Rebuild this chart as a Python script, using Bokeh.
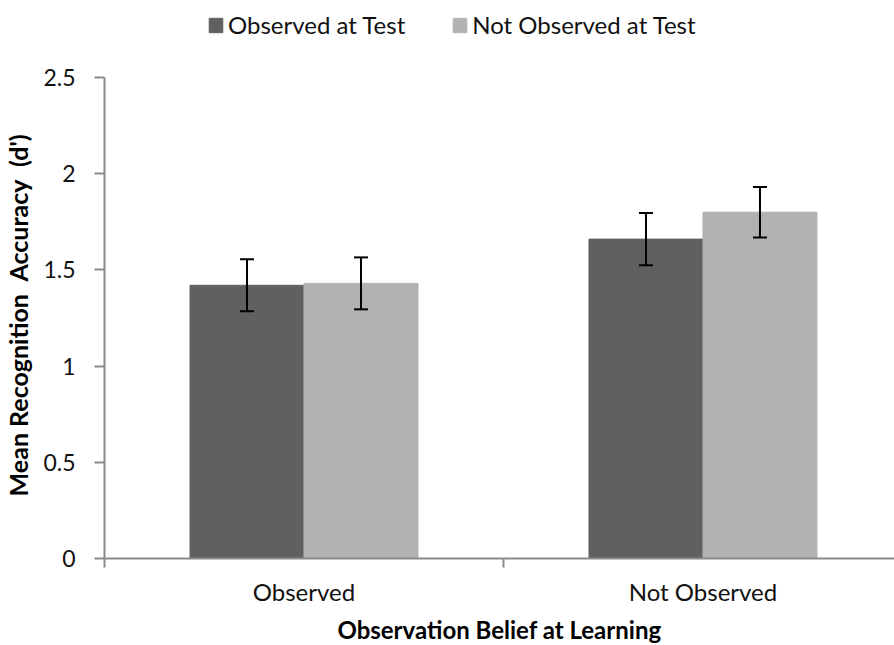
from bokeh.plotting import figure
from bokeh.models import (Range1d, FixedTicker, CustomJSTickFormatter, NumeralTickFormatter,
                          ColumnDataSource, Whisker, TeeHead, Legend, LegendItem)
from bokeh.embed import file_html
from bokeh.resources import INLINE

# ---- data ----
categories = ["Observed", "Not Observed"]
series_names = ["Observed at Test", "Not Observed at Test"]
observed_at_test = [1.42, 1.66]
not_observed_at_test = [1.43, 1.80]
observed_err = [0.135, 0.136]
not_observed_err = [0.135, 0.131]
y_ticks = [0, 0.5, 1, 1.5, 2, 2.5]
y_max = 2.5
colors = ["#606060", "#b2b2b2"]

FONT = "Lato"
bar_w = 0.2857

# frame extends to the top of the figure (room for the legend); axis drawn only to y_max
FRAME_H = 558
AXIS_H = 481
p = figure(frame_width=790, frame_height=FRAME_H, output_backend="svg", toolbar_location=None,
           x_range=Range1d(0, 1.98), y_range=Range1d(0, y_max * FRAME_H / AXIS_H),
           min_border_left=104, min_border_right=0, min_border_top=0, min_border_bottom=87)
p.outline_line_color = None
p.grid.visible = False
p.background_fill_color = "white"

renderers = []
for k, (vals, errs) in enumerate([(observed_at_test, observed_err),
                                  (not_observed_at_test, not_observed_err)]):
    xs = [i + 0.5 + (k - 0.5) * bar_w for i in range(len(categories))]
    src = ColumnDataSource(dict(x=xs, top=vals,
                                upper=[v + e for v, e in zip(vals, errs)],
                                lower=[v - e for v, e in zip(vals, errs)]))
    r = p.vbar(x="x", top="top", bottom=0, width=bar_w, source=src,
               fill_color=colors[k], line_color=colors[k])
    renderers.append(r)
    w = Whisker(base="x", upper="upper", lower="lower", source=src, level="overlay",
                line_color="black", line_width=2,
                upper_head=TeeHead(size=14, line_width=2, line_color="black"),
                lower_head=TeeHead(size=14, line_width=2, line_color="black"))
    p.add_layout(w)

# x axis
xa = p.xaxis[0]
xa.ticker = FixedTicker(ticks=[i + 0.5 for i in range(len(categories))],
                        minor_ticks=list(range(len(categories) + 1)))
xa.formatter = CustomJSTickFormatter(args=dict(labels=categories),
                                     code="return labels[Math.floor(tick)];")
xa.major_tick_line_color = None
xa.minor_tick_line_color = "#8a8a8a"
xa.minor_tick_line_width = 2
xa.minor_tick_in = 0
xa.minor_tick_out = 9
xa.axis_line_color = "#8a8a8a"
xa.axis_line_width = 2
xa.major_label_text_font = FONT
xa.major_label_text_font_size = "24px"
xa.major_label_text_color = "#111111"
xa.major_label_standoff = 9
xa.axis_label = "Observation Belief at Learning"
xa.axis_label_text_font = FONT
xa.axis_label_text_font_style = "bold"
xa.axis_label_text_font_size = "24px"
xa.axis_label_text_color = "black"
xa.axis_label_standoff = 6

# y axis
ya = p.yaxis[0]
ya.bounds = (0, y_max)
ya.ticker = FixedTicker(ticks=y_ticks)
ya.formatter = NumeralTickFormatter(format="0.[0]")
ya.minor_tick_line_color = None
ya.major_tick_line_color = "#8a8a8a"
ya.major_tick_line_width = 2
ya.major_tick_in = 0
ya.major_tick_out = 10
ya.axis_line_color = "#8a8a8a"
ya.axis_line_width = 2
ya.major_label_text_font = FONT
ya.major_label_text_font_size = "23px"
ya.major_label_text_color = "#111111"
ya.major_label_standoff = 19
# trailing spaces shift the centred title down to the middle of the 0..2.5 axis
ya.axis_label = "Mean Recognition\u2002Accuracy\u2002(d')\u2003\u2003\u2003\u2002\u2009"
ya.axis_label_text_font = FONT
ya.axis_label_text_font_style = "bold"
ya.axis_label_text_font_size = "25px"
ya.axis_label_text_color = "black"
ya.axis_label_standoff = 7

legend = Legend(items=[LegendItem(label=series_names[k], renderers=[renderers[k]]) for k in range(2)],
                orientation="horizontal", location=(103, 519),
                glyph_width=17, glyph_height=18, label_standoff=4, spacing=46,
                padding=0, margin=0, border_line_color=None, background_fill_alpha=0,
                label_text_font=FONT, label_text_font_size="24px", label_text_color="#111111")
p.add_layout(legend)

open("out.html", "w").write(file_html(p, INLINE))
